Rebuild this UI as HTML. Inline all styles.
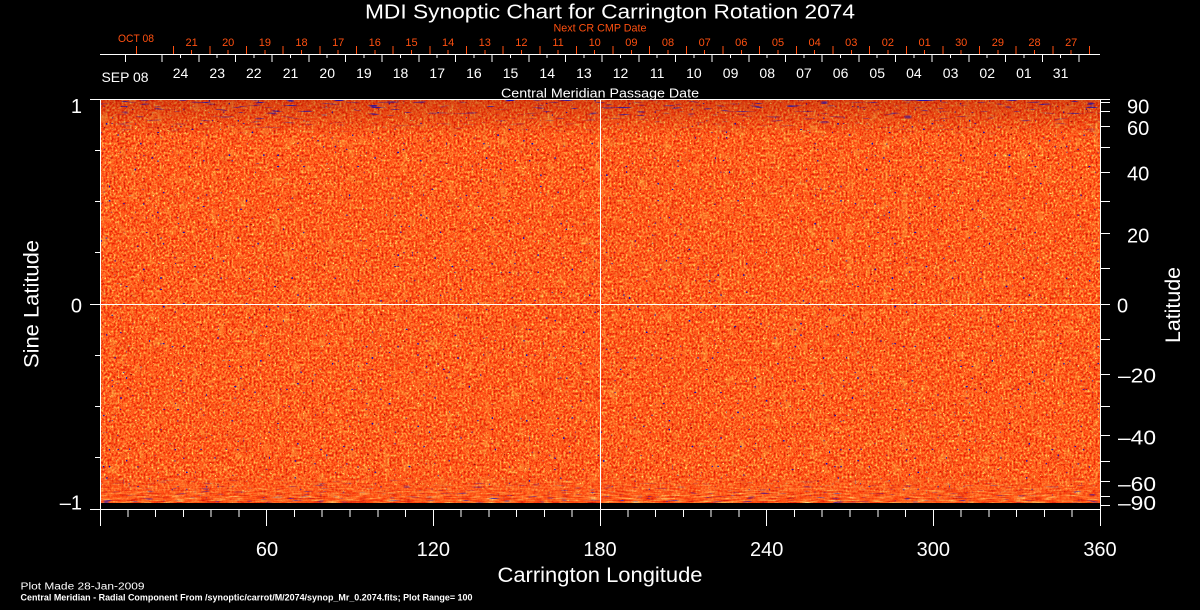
<!DOCTYPE html>
<html>
<head>
<meta charset="utf-8">
<style>
html,body{margin:0;padding:0;background:#000;}
svg{display:block;}
text{font-family:"Liberation Sans",sans-serif;}
</style>
</head>
<body>
<svg width="1200" height="610" viewBox="0 0 1200 610" xmlns="http://www.w3.org/2000/svg">
<defs>
  <filter id="tex" x="0" y="0" width="100%" height="100%" filterUnits="objectBoundingBox" color-interpolation-filters="sRGB">
    <feTurbulence type="fractalNoise" baseFrequency="0.5 0.42" numOctaves="2" seed="4" result="t"/>
    <feColorMatrix in="t" type="matrix" values="1 0 0 0 0  1 0 0 0 0  1 0 0 0 0  0 0 0 0 1" result="g"/>
    <feComponentTransfer in="g">
      <feFuncR type="discrete" tableValues="0.6 0.76 0.88 0.96 1 1 1 1 1 1"/>
      <feFuncG type="discrete" tableValues="0.03 0.06 0.12 0.21 0.3 0.41 0.55 0.72 0.88 0.97"/>
      <feFuncB type="discrete" tableValues="0.02 0.02 0.03 0.04 0.08 0.14 0.22 0.3 0.4 0.55"/>
    </feComponentTransfer>
  </filter>
  <filter id="mott" x="0" y="0" width="100%" height="100%" filterUnits="objectBoundingBox" color-interpolation-filters="sRGB">
    <feTurbulence type="fractalNoise" baseFrequency="0.11 0.08" numOctaves="2" seed="31"/>
    <feColorMatrix type="matrix" values="0 0 0 0 1  0 0 0 0 0.75  0 0 0 0 0.3  5 0 0 0 -3.0"/>
  </filter>
  <filter id="mottd" x="0" y="0" width="100%" height="100%" filterUnits="objectBoundingBox" color-interpolation-filters="sRGB">
    <feTurbulence type="fractalNoise" baseFrequency="0.1 0.09" numOctaves="2" seed="47"/>
    <feColorMatrix type="matrix" values="0 0 0 0 0.8  0 0 0 0 0.1  0 0 0 0 0.02  5 0 0 0 -3.0"/>
  </filter>
  <filter id="dots" x="0" y="0" width="100%" height="100%" filterUnits="objectBoundingBox" color-interpolation-filters="sRGB">
    <feTurbulence type="fractalNoise" baseFrequency="0.35" numOctaves="1" seed="11"/>
    <feColorMatrix type="matrix" values="0 0 0 0 0.06  0 0 0 0 0.04  0 0 0 0 0.72  16 0 0 0 -11.6"/>
  </filter>
  <filter id="ylw" x="0" y="0" width="100%" height="100%" filterUnits="objectBoundingBox" color-interpolation-filters="sRGB">
    <feTurbulence type="fractalNoise" baseFrequency="0.4" numOctaves="1" seed="61"/>
    <feColorMatrix type="matrix" values="0 0 0 0 1  0 0 0 0 0.9  0 0 0 0 0.45  16 0 0 0 -11.5"/>
  </filter>
  <filter id="dark" x="0" y="0" width="100%" height="100%" filterUnits="objectBoundingBox" color-interpolation-filters="sRGB">
    <feTurbulence type="fractalNoise" baseFrequency="0.3" numOctaves="1" seed="23"/>
    <feColorMatrix type="matrix" values="0 0 0 0 0.6  0 0 0 0 0.03  0 0 0 0 0.05  18 0 0 0 -13.5"/>
  </filter>
  <filter id="topstreak" x="0" y="0" width="100%" height="100%" filterUnits="objectBoundingBox" color-interpolation-filters="sRGB">
    <feTurbulence type="fractalNoise" baseFrequency="0.06 0.55" numOctaves="1" seed="8"/>
    <feColorMatrix type="matrix" values="0 0 0 0 0.08  0 0 0 0 0.05  0 0 0 0 0.7  12 0 0 0 -7.8"/>
  </filter>
  <filter id="botblue" x="0" y="0" width="100%" height="100%" filterUnits="objectBoundingBox" color-interpolation-filters="sRGB">
    <feTurbulence type="fractalNoise" baseFrequency="0.07 0.6" numOctaves="1" seed="19"/>
    <feColorMatrix type="matrix" values="0 0 0 0 0.1  0 0 0 0 0.05  0 0 0 0 0.75  12 0 0 0 -7.9"/>
  </filter>
  <filter id="streak" x="0" y="0" width="100%" height="100%" filterUnits="objectBoundingBox" color-interpolation-filters="sRGB">
    <feTurbulence type="fractalNoise" baseFrequency="0.07 0.6" numOctaves="2" seed="5" result="t"/>
    <feColorMatrix in="t" type="matrix" values="1 0 0 0 0  1 0 0 0 0  1 0 0 0 0  0 0 0 0 1" result="g"/>
    <feComponentTransfer in="g">
      <feFuncR type="discrete" tableValues="0.1 0.2 0.8 0.95 1 1 1 1 1 1"/>
      <feFuncG type="discrete" tableValues="0.1 0.1 0.08 0.2 0.3 0.42 0.58 0.8 0.95 1"/>
      <feFuncB type="discrete" tableValues="0.8 0.8 0.04 0.04 0.07 0.14 0.25 0.4 0.6 0.8"/>
    </feComponentTransfer>
  </filter>
  <linearGradient id="gb" x1="0" y1="0" x2="0" y2="1">
    <stop offset="0" stop-color="#fff" stop-opacity="0"/>
    <stop offset="1" stop-color="#fff" stop-opacity="0.85"/>
  </linearGradient>
  <linearGradient id="gt" x1="0" y1="0" x2="0" y2="1">
    <stop offset="0" stop-color="#fff" stop-opacity="1"/>
    <stop offset="1" stop-color="#fff" stop-opacity="0"/>
  </linearGradient>
  <mask id="mb"><rect x="100" y="475" width="1000" height="28" fill="url(#gb)"/></mask>
  <mask id="mt"><rect x="100" y="100" width="1000" height="36" fill="url(#gt)"/></mask>
</defs>

<rect width="1200" height="610" fill="#000"/>

<rect x="100" y="99" width="1000" height="404" fill="#f45e20"/>
<rect x="100" y="99" width="1000" height="404" filter="url(#tex)"/>
<rect x="100" y="99" width="1000" height="404" filter="url(#mott)" opacity="0.35"/>
<rect x="100" y="99" width="1000" height="404" filter="url(#mottd)" opacity="0.18"/>
<rect x="100" y="99" width="1000" height="404" filter="url(#dark)"/>
<rect x="100" y="99" width="1000" height="404" filter="url(#ylw)"/>
<rect x="100" y="99" width="1000" height="404" filter="url(#dots)"/>
<rect x="100" y="100" width="1000" height="36" fill="#a01800" opacity="0.4" mask="url(#mt)"/>
<rect x="100" y="100" width="1000" height="36" filter="url(#topstreak)" mask="url(#mt)"/>
<rect x="100" y="475" width="1000" height="28" filter="url(#streak)" mask="url(#mb)"/>
<rect x="100" y="475" width="1000" height="28" filter="url(#botblue)" mask="url(#mb)"/>
<rect x="100" y="503" width="1000" height="6" fill="#000"/>

<g stroke="#fff" stroke-width="1" fill="none" shape-rendering="crispEdges">
  <path d="M90 99.5H1110 M90 509.5H1100 M100.5 99V526 M1100.5 99V526 M600.5 99V526 M90 304.5H1110"/>
  <path d="M95 150.5H100 M95 201.5H100 M95 252.5H100 M95 355.5H100 M95 406.5H100 M95 457.5H100"/>
  <path d="M1100 102.5H1110 M1100 111.5H1110 M1100 126.5H1110 M1100 147.5H1110 M1100 172.5H1110 M1100 201.5H1110 M1100 233.5H1110 M1100 268.5H1110 M1100 339.5H1110 M1100 374.5H1110 M1100 406.5H1110 M1100 435.5H1110 M1100 461.5H1110 M1100 481.5H1110 M1100 496.5H1110 M1100 505.5H1110"/>
  <path d="M127.8 509V517 M155.6 509V517 M183.3 509V517 M211.1 509V517 M238.9 509V517 M266.7 509V526 M294.4 509V517 M322.2 509V517 M350 509V517 M377.8 509V517 M405.6 509V517 M433.3 509V526 M461.1 509V517 M488.9 509V517 M516.7 509V517 M544.4 509V517 M572.2 509V517 M627.8 509V517 M655.6 509V517 M683.3 509V517 M711.1 509V517 M738.9 509V517 M766.7 509V526 M794.4 509V517 M822.2 509V517 M850 509V517 M877.8 509V517 M905.6 509V517 M933.3 509V526 M961.1 509V517 M988.9 509V517 M1016.7 509V517 M1044.4 509V517 M1072.2 509V517"/>
  <path d="M100 54.5H1100"/>
  <path d="M125.5 54V62 M162.2 54V62 M198.8 54V62 M235.5 54V62 M272.2 54V62 M308.9 54V62 M345.5 54V62 M382.2 54V62 M418.9 54V62 M455.5 54V62 M492.2 54V62 M528.9 54V62 M565.5 54V62 M602.2 54V62 M638.9 54V62 M675.6 54V62 M712.2 54V62 M748.9 54V62 M785.6 54V62 M822.2 54V62 M858.9 54V62 M895.6 54V62 M932.2 54V62 M968.9 54V62 M1005.6 54V62 M1042.3 54V62 M1078.9 54V62"/>
  <path d="M180.5 54V58 M217.2 54V58 M253.8 54V58 M290.5 54V58 M327.2 54V58 M363.9 54V58 M400.5 54V58 M437.2 54V58 M473.9 54V58 M510.5 54V58 M547.2 54V58 M583.9 54V58 M620.5 54V58 M657.2 54V58 M693.9 54V58 M730.6 54V58 M767.2 54V58 M803.9 54V58 M840.6 54V58 M877.2 54V58 M913.9 54V58 M950.6 54V58 M987.2 54V58 M1023.9 54V58 M1060.6 54V58"/>
</g>
<g stroke="#ff5010" stroke-width="1" fill="none" shape-rendering="crispEdges">
  <path d="M136.6 46V54 M173.3 46V54 M209.9 46V54 M246.6 46V54 M283.2 46V54 M319.9 46V54 M356.5 46V54 M393.2 46V54 M429.8 46V54 M466.5 46V54 M503.1 46V54 M539.8 46V54 M576.4 46V54 M613.1 46V54 M649.7 46V54 M686.4 46V54 M723 46V54 M759.7 46V54 M796.3 46V54 M833 46V54 M869.6 46V54 M906.3 46V54 M942.9 46V54 M979.6 46V54 M1016.2 46V54 M1052.9 46V54 M1089.5 46V54"/>
  <path d="M191.6 50V54 M228.2 50V54 M264.9 50V54 M301.5 50V54 M338.2 50V54 M374.8 50V54 M411.5 50V54 M448.1 50V54 M484.8 50V54 M521.4 50V54 M558.1 50V54 M594.7 50V54 M631.4 50V54 M668 50V54 M704.7 50V54 M741.3 50V54 M778 50V54 M814.6 50V54 M851.3 50V54 M887.9 50V54 M924.6 50V54 M961.2 50V54 M997.9 50V54 M1034.5 50V54 M1071.2 50V54"/>
</g>

<text x="365" y="18.5" font-size="20" fill="#fff" textLength="490" lengthAdjust="spacingAndGlyphs">MDI Synoptic Chart for Carrington Rotation 2074</text>

<g fill="#ff5010" font-size="11" text-anchor="middle">
  <text x="600" y="31.5" textLength="93" lengthAdjust="spacingAndGlyphs">Next CR CMP Date</text>
  <text x="136" y="42" textLength="36" lengthAdjust="spacingAndGlyphs">OCT 08</text>
  <text x="191.6" y="46">21</text><text x="228.2" y="46">20</text><text x="264.9" y="46">19</text>
  <text x="301.5" y="46">18</text><text x="338.2" y="46">17</text><text x="374.8" y="46">16</text>
  <text x="411.5" y="46">15</text><text x="448.1" y="46">14</text><text x="484.8" y="46">13</text>
  <text x="521.4" y="46">12</text><text x="558.1" y="46">11</text><text x="594.7" y="46">10</text>
  <text x="631.4" y="46">09</text><text x="668" y="46">08</text><text x="704.7" y="46">07</text>
  <text x="741.3" y="46">06</text><text x="778" y="46">05</text><text x="814.6" y="46">04</text>
  <text x="851.3" y="46">03</text><text x="887.9" y="46">02</text><text x="924.6" y="46">01</text>
  <text x="961.2" y="46">30</text><text x="997.9" y="46">29</text><text x="1034.5" y="46">28</text>
  <text x="1071.2" y="46">27</text>
</g>

<g fill="#fff" font-size="14" text-anchor="middle">
  <text x="125" y="82" textLength="47" lengthAdjust="spacingAndGlyphs">SEP 08</text>
  <text x="180.5" y="78">24</text><text x="217.2" y="78">23</text><text x="253.8" y="78">22</text>
  <text x="290.5" y="78">21</text><text x="327.2" y="78">20</text><text x="363.9" y="78">19</text>
  <text x="400.5" y="78">18</text><text x="437.2" y="78">17</text><text x="473.9" y="78">16</text>
  <text x="510.5" y="78">15</text><text x="547.2" y="78">14</text><text x="583.9" y="78">13</text>
  <text x="620.5" y="78">12</text><text x="657.2" y="78">11</text><text x="693.9" y="78">10</text>
  <text x="730.6" y="78">09</text><text x="767.2" y="78">08</text><text x="803.9" y="78">07</text>
  <text x="840.6" y="78">06</text><text x="877.2" y="78">05</text><text x="913.9" y="78">04</text>
  <text x="950.6" y="78">03</text><text x="987.2" y="78">02</text><text x="1023.9" y="78">01</text>
  <text x="1060.6" y="78">31</text>
</g>
<text x="600" y="97.5" font-size="13" fill="#fff" text-anchor="middle" textLength="198" lengthAdjust="spacingAndGlyphs">Central Meridian Passage Date</text>

<g fill="#fff" font-size="20" text-anchor="end">
  <text x="82" y="113">1</text>
  <text x="82" y="312.5">0</text>
  <text x="82" y="509.5">–1</text>
</g>
<text transform="translate(38.5,304) rotate(-90)" font-size="21" fill="#fff" text-anchor="middle" textLength="128" lengthAdjust="spacingAndGlyphs">Sine Latitude</text>

<g fill="#fff" font-size="20">
  <text x="1127" y="113.5">90</text>
  <text x="1127" y="135">60</text>
  <text x="1127" y="180.5">40</text>
  <text x="1127" y="242.5">20</text>
  <text x="1117" y="312.5">0</text>
  <text x="1118" y="382.5" textLength="38" lengthAdjust="spacingAndGlyphs">–20</text>
  <text x="1118" y="444.5" textLength="38" lengthAdjust="spacingAndGlyphs">–40</text>
  <text x="1118" y="491" textLength="38" lengthAdjust="spacingAndGlyphs">–60</text>
  <text x="1118" y="510" textLength="38" lengthAdjust="spacingAndGlyphs">–90</text>
</g>
<text transform="translate(1180,305) rotate(-90)" font-size="21" fill="#fff" text-anchor="middle" textLength="76" lengthAdjust="spacingAndGlyphs">Latitude</text>

<g fill="#fff" font-size="20" text-anchor="middle">
  <text x="267" y="556">60</text>
  <text x="433.3" y="556">120</text>
  <text x="600" y="556">180</text>
  <text x="766.7" y="556">240</text>
  <text x="933.3" y="556">300</text>
  <text x="1100" y="556">360</text>
</g>
<text x="600" y="582" font-size="21" fill="#fff" text-anchor="middle" textLength="205" lengthAdjust="spacingAndGlyphs">Carrington Longitude</text>

<text x="20.5" y="589.5" font-size="10" fill="#fff" textLength="124" lengthAdjust="spacingAndGlyphs">Plot Made 28-Jan-2009</text>
<text x="20.5" y="600.5" font-size="9" fill="#fff" font-weight="bold" textLength="452" lengthAdjust="spacingAndGlyphs">Central Meridian - Radial Component From /synoptic/carrot/M/2074/synop_Mr_0.2074.fits; Plot Range=  100</text>
</svg>
</body>
</html>
